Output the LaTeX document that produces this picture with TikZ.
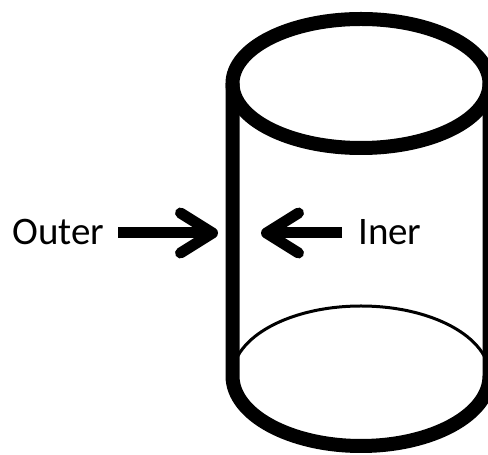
\documentclass[tikz,border=0pt]{standalone}
\usepackage{fontspec}
\setmainfont{Carlito}
\usetikzlibrary{arrows.meta}
\tikzset{
  wall/.style={line width=14pt},
  backrim/.style={line width=3pt},
  push/.style={line width=11pt,-{Straight Barb[round,length=32pt,width=40pt]}},
  label/.style={font=\fontsize{39}{46}\selectfont,inner sep=0pt,anchor=base west}
}
\begin{document}
\begin{tikzpicture}[x=1pt,y=1pt]
  \useasboundingbox (0,0) rectangle (488,455);
  % cylinder : top rim, sides and front of the base
  \draw[wall] (361,371.5) ellipse [x radius=128.5, y radius=64.5];
  \draw[wall,line join=round] (232.5,371.5) -- (232.5,79)
     arc[start angle=180, end angle=360, x radius=128.5, y radius=70] -- (489.5,371.5);
  \draw[backrim] (232.5,79) arc[start angle=180, end angle=0, x radius=128.5, y radius=70];
  % labels and arrows
  \node[label] (outer) at (12,210) {Outer};
  \node[label] (iner) at (358,210) {Iner};
  \coordinate (wallout) at (218,222);
  \coordinate (wallin) at (261,222);
  \draw[push] ([shift={(14,12)}]outer.base east) -- (wallout);
  \draw[push] ([shift={(-16,12)}]iner.base west) -- (wallin);
\end{tikzpicture}
\end{document}
